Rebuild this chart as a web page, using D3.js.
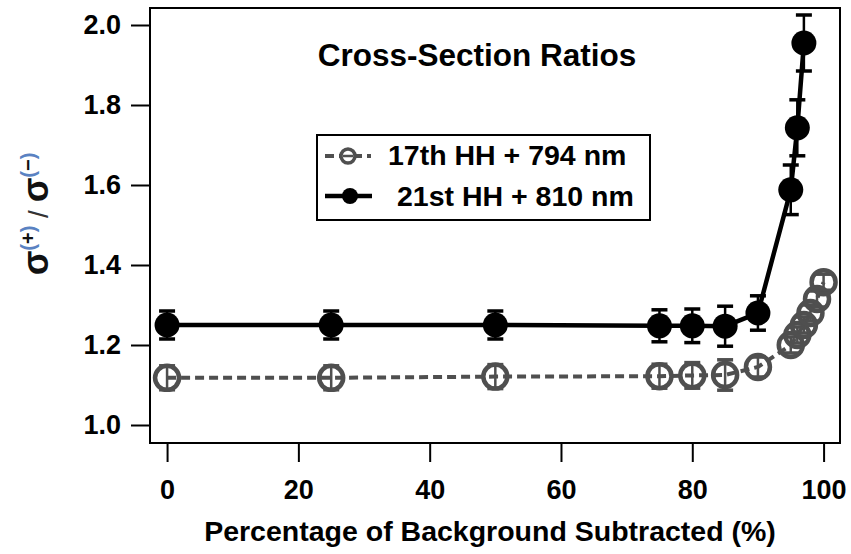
<!DOCTYPE html>
<html>
<head>
<meta charset="utf-8">
<script src="https://cdn.jsdelivr.net/npm/d3@7"></script>
<style>
  body { margin: 0; background: #fff; }
  text { font-family: "Liberation Sans", Arial, sans-serif; font-weight: bold; }
</style>
</head>
<body>
<div id="chart"></div>
<script>
// 17th HH + 794 nm (grey, open circles, dashed)
const pctGray = [0, 25, 50, 75, 80, 85, 90, 95, 96, 97, 98, 99, 100];
const ratioGray = [1.118, 1.118, 1.121, 1.122, 1.124, 1.125, 1.145, 1.20, 1.225, 1.25, 1.28, 1.315, 1.357];
const errGray = [0.03, 0.03, 0.03, 0.03, 0.032, 0.038, 0.025, 0.02, 0.02, 0.02, 0.02, 0.02, 0.02];

// 21st HH + 810 nm (black, filled circles, solid)
const pctBlack = [0, 25, 50, 75, 80, 85, 90, 95, 96, 97];
const ratioBlack = [1.25, 1.25, 1.25, 1.248, 1.248, 1.247, 1.28, 1.588, 1.743, 1.955];
const errBlack = [0.035, 0.035, 0.035, 0.04, 0.042, 0.05, 0.043, 0.062, 0.07, 0.07];

const xTicks = [0, 20, 40, 60, 80, 100];
const yTicks = [1.0, 1.2, 1.4, 1.6, 1.8, 2.0];
const seriesNames = ["17th HH + 794 nm", "21st HH + 810 nm"];

const W = 851, H = 554;
const frame = {left: 150, right: 840, top: 8, bottom: 443};
const grey = "#4f4f4f";

const svg = d3.select("#chart")
  .append("svg")
  .attr("width", W)
  .attr("height", H);

const xScale = d3.scaleLinear()
  .domain([-2.6, 102.5])
  .range([frame.left, frame.right]);

const yScale = d3.scaleLinear()
  .domain([0.955, 2.0425])
  .range([frame.bottom, frame.top]);

// axes (ticks outside, long)
svg.append("g")
  .attr("transform", `translate(0, ${frame.bottom})`)
  .call(d3.axisBottom(xScale).tickValues(xTicks).tickSize(19).tickPadding(18).tickFormat(d3.format("d")))
  .call(g => g.select(".domain").remove())
  .call(g => g.selectAll("line").attr("stroke", "#000").attr("stroke-width", 2))
  .call(g => g.selectAll("text").style("font-size", "27px").attr("fill", "#000"));

svg.append("g")
  .attr("transform", `translate(${frame.left}, 0)`)
  .call(d3.axisLeft(yScale).tickValues(yTicks).tickSize(19).tickPadding(10).tickFormat(d3.format(".1f")))
  .call(g => g.select(".domain").remove())
  .call(g => g.selectAll("line").attr("stroke", "#000").attr("stroke-width", 2))
  .call(g => g.selectAll("text").style("font-size", "27px").attr("fill", "#000"));

// plot frame
svg.append("rect")
  .attr("x", frame.left)
  .attr("y", frame.top)
  .attr("width", frame.right - frame.left)
  .attr("height", frame.bottom - frame.top)
  .attr("fill", "none")
  .attr("stroke", "#000")
  .attr("stroke-width", 2);

const grayData = pctGray.map((p, i) => ({x: p, y: ratioGray[i], e: errGray[i]}));
const blackData = pctBlack.map((p, i) => ({x: p, y: ratioBlack[i], e: errBlack[i]}));

const line = d3.line()
  .x(d => xScale(d.x))
  .y(d => yScale(d.y));

// connecting lines
svg.append("path")
  .datum(grayData)
  .attr("fill", "none")
  .attr("stroke", grey)
  .attr("stroke-width", 4)
  .attr("stroke-dasharray", "9,5")
  .attr("d", line);

svg.append("path")
  .datum(blackData)
  .attr("fill", "none")
  .attr("stroke", "#000")
  .attr("stroke-width", 4.5)
  .attr("d", line);

function errorBars(data, color, capW, sw) {
  const g = svg.append("g").attr("stroke", color).attr("stroke-width", sw);
  g.selectAll(".ebar").data(data).join("line")
    .attr("x1", d => xScale(d.x)).attr("x2", d => xScale(d.x))
    .attr("y1", d => yScale(d.y + d.e)).attr("y2", d => yScale(d.y - d.e));
  g.selectAll(".capTop").data(data).join("line")
    .attr("x1", d => xScale(d.x) - capW / 2).attr("x2", d => xScale(d.x) + capW / 2)
    .attr("y1", d => yScale(d.y + d.e)).attr("y2", d => yScale(d.y + d.e))
    .attr("stroke-width", sw + 1);
  g.selectAll(".capBot").data(data).join("line")
    .attr("x1", d => xScale(d.x) - capW / 2).attr("x2", d => xScale(d.x) + capW / 2)
    .attr("y1", d => yScale(d.y - d.e)).attr("y2", d => yScale(d.y - d.e))
    .attr("stroke-width", sw + 1);
}

errorBars(grayData, grey, 16, 2.5);
errorBars(blackData, "#000", 16, 2.5);

// markers
svg.append("g").selectAll("circle").data(grayData).join("circle")
  .attr("cx", d => xScale(d.x))
  .attr("cy", d => yScale(d.y))
  .attr("r", 12)
  .attr("fill", "none")
  .attr("stroke", grey)
  .attr("stroke-width", 4.5);

svg.append("g").selectAll("circle").data(blackData).join("circle")
  .attr("cx", d => xScale(d.x))
  .attr("cy", d => yScale(d.y))
  .attr("r", 12.5)
  .attr("fill", "#000");

// title
svg.append("text")
  .attr("x", 477)
  .attr("y", 66)
  .attr("text-anchor", "middle")
  .style("font-size", "31.5px")
  .text("Cross-Section Ratios");

// legend
const legend = svg.append("g");
legend.append("rect")
  .attr("x", 317).attr("y", 135)
  .attr("width", 333).attr("height", 85)
  .attr("fill", "#fff")
  .attr("stroke", "#000")
  .attr("stroke-width", 2);

legend.append("line")
  .attr("x1", 325).attr("x2", 371).attr("y1", 156).attr("y2", 156)
  .attr("stroke", grey).attr("stroke-width", 4).attr("stroke-dasharray", "9,5");
legend.append("circle")
  .attr("cx", 348).attr("cy", 156).attr("r", 7)
  .attr("fill", "#fff").attr("stroke", grey).attr("stroke-width", 3.5);
legend.append("line")
  .attr("x1", 343).attr("x2", 353).attr("y1", 156).attr("y2", 156)
  .attr("stroke", grey).attr("stroke-width", 2.5);
legend.append("text")
  .attr("x", 388).attr("y", 165)
  .style("font-size", "28.5px")
  .text(seriesNames[0]);

legend.append("line")
  .attr("x1", 325).attr("x2", 372).attr("y1", 196).attr("y2", 196)
  .attr("stroke", "#000").attr("stroke-width", 4.5);
legend.append("circle")
  .attr("cx", 350).attr("cy", 196).attr("r", 8)
  .attr("fill", "#000");
legend.append("text")
  .attr("x", 397).attr("y", 206)
  .style("font-size", "28.5px")
  .text(seriesNames[1]);

// axis titles
svg.append("text")
  .attr("x", 490)
  .attr("y", 541)
  .attr("text-anchor", "middle")
  .style("font-size", "28.5px")
  .text("Percentage of Background Subtracted (%)");

const yTitle = svg.append("text")
  .attr("transform", "translate(48, 214) rotate(-90)")
  .attr("text-anchor", "middle")
  .style("font-size", "36px");
yTitle.append("tspan").attr("fill", "#111").text("σ");
yTitle.append("tspan").attr("dy", -13).style("font-size", "20px").attr("fill", "#5a82c2").text("(");
yTitle.append("tspan").style("font-size", "20px").attr("fill", "#111").text("+");
yTitle.append("tspan").style("font-size", "20px").attr("fill", "#5a82c2").text(")");
yTitle.append("tspan").attr("dy", 13).attr("fill", "#333").style("font-size", "28px").style("font-weight", "normal").text(" / ");
yTitle.append("tspan").attr("fill", "#111").text("σ");
yTitle.append("tspan").attr("dy", -13).style("font-size", "20px").attr("fill", "#5a82c2").text("(");
yTitle.append("tspan").style("font-size", "20px").attr("fill", "#111").text("−");
yTitle.append("tspan").style("font-size", "20px").attr("fill", "#5a82c2").text(")");
</script>
</body>
</html>
